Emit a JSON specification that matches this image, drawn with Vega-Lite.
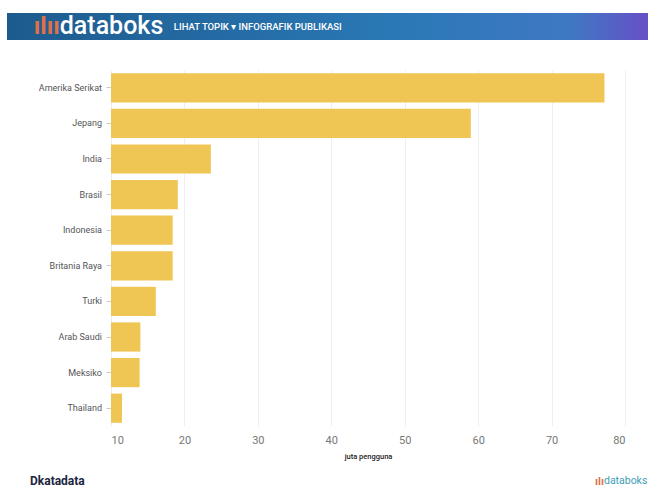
{
  "$schema": "https://vega.github.io/schema/vega-lite/v6.json",
  "padding": {"left": 7, "top": 13, "right": 0, "bottom": 0},
  "autosize": {"type": "pad"},
  "background": "white",
  "spacing": 3,
  "config": {"view": {"stroke": null}, "font": "Roboto"},
  "datasets": {
    "countries": [
      {"negara": "Amerika Serikat", "pengguna": 77.2, "kolom": "label"},
      {"negara": "Jepang", "pengguna": 59.0, "kolom": "label"},
      {"negara": "India", "pengguna": 23.6, "kolom": "label"},
      {"negara": "Brasil", "pengguna": 19.1, "kolom": "label"},
      {"negara": "Indonesia", "pengguna": 18.4, "kolom": "label"},
      {"negara": "Britania Raya", "pengguna": 18.4, "kolom": "label"},
      {"negara": "Turki", "pengguna": 16.1, "kolom": "label"},
      {"negara": "Arab Saudi", "pengguna": 14.0, "kolom": "label"},
      {"negara": "Meksiko", "pengguna": 13.9, "kolom": "label"},
      {"negara": "Thailand", "pengguna": 11.5, "kolom": "label"}
    ],
    "header": [
      {"row": "band", "slot": "logo", "part": "band", "label": ""},
      {"row": "band", "slot": "logo", "part": "icon", "label": "ılıı"},
      {"row": "band", "slot": "logo", "part": "brand", "label": "databoks"},
      {"row": "band", "slot": "nav", "part": "nav", "label": "LIHAT TOPIK ▾   INFOGRAFIK   PUBLIKASI"}
    ],
    "footer": [
      {"slot": "left", "part": "katadata", "label": "Dkatadata"},
      {"slot": "right", "part": "icon", "label": "ılı"},
      {"slot": "right", "part": "databoks", "label": "databoks"}
    ]
  },
  "vconcat": [
    {
      "width": 641,
      "height": 54,
      "data": {"name": "header"},
      "encoding": {
        "y": {"field": "row", "type": "nominal", "axis": null,
              "scale": {"type": "band", "domain": ["band", "gap"], "paddingInner": 0, "paddingOuter": 0}},
        "x": {"field": "slot", "type": "nominal", "axis": null,
              "scale": {"type": "point", "domain": ["logo", "nav", "d1", "d2", "d3", "d4"], "padding": 0.31, "align": 0.746}},
        "text": {"field": "label"}
      },
      "layer": [
        {
          "transform": [{"filter": "datum.part === 'band'"}],
          "mark": {"type": "rect",
                   "color": {"gradient": "linear", "x1": 0, "x2": 1, "y1": 0, "y2": 0,
                             "stops": [{"offset": 0, "color": "#1d5b8e"}, {"offset": 0.6, "color": "#2a78b5"}, {"offset": 0.88, "color": "#3f78c4"}, {"offset": 1, "color": "#6650c6"}]}},
          "encoding": {"x": null, "text": null}
        },
        {
          "transform": [{"filter": "datum.part === 'icon'"}],
          "mark": {"type": "text", "align": "right", "baseline": "middle", "color": "#e0704a", "fontSize": 24, "fontWeight": "bold"}
        },
        {
          "transform": [{"filter": "datum.part === 'brand'"}],
          "mark": {"type": "text", "align": "left", "baseline": "middle", "color": "white", "fontSize": 25, "fontWeight": 500, "dy": -1}
        },
        {
          "transform": [{"filter": "datum.part === 'nav'"}],
          "mark": {"type": "text", "align": "left", "baseline": "middle", "color": "white", "fontSize": 9.5, "fontWeight": 500}
        }
      ]
    },
    {
      "hconcat": [
        {
          "width": 95,
          "height": 356,
          "data": {"name": "countries"},
          "mark": {"type": "text", "align": "right", "baseline": "middle", "fontSize": 9, "color": "#555"},
          "encoding": {
            "y": {"field": "negara", "type": "nominal", "sort": null, "axis": null,
                  "scale": {"paddingInner": 0.18, "paddingOuter": 0.09}},
            "x": {"field": "kolom", "type": "nominal", "axis": null,
                  "scale": {"type": "point", "domain": ["label"], "padding": 0, "align": 1}},
            "text": {"field": "negara"}
          }
        },
        {
          "width": 514,
          "height": 356,
          "data": {"name": "countries"},
          "mark": {"type": "bar", "color": "#efc553"},
          "encoding": {
            "y": {"field": "negara", "type": "nominal", "sort": null, "title": null,
                  "scale": {"paddingInner": 0.18, "paddingOuter": 0.09},
                  "axis": {"labels": false, "tickColor": "#ccc", "tickSize": 5,
                           "domain": false, "grid": false, "minExtent": 5, "maxExtent": 5}},
            "x": {"field": "pengguna", "type": "quantitative", "title": "juta pengguna",
                  "scale": {"domain": [10, 80], "zero": false, "nice": false},
                  "axis": {"values": [10, 20, 30, 40, 50, 60, 70, 80], "labelFontSize": 11, "labelColor": "#777",
                           "ticks": false, "domain": false, "labelPadding": 8, "gridColor": "#eeeeee",
                           "titleFontSize": 7.5, "titleColor": "#222", "titleFontWeight": 500, "titlePadding": 7}},
            "x2": {"datum": 10}
          }
        }
      ],
      "spacing": 3
    },
    {
      "width": 641,
      "height": 26,
      "data": {"name": "footer"},
      "encoding": {
        "x": {"field": "slot", "type": "nominal", "axis": null,
              "scale": {"type": "point", "domain": ["left", "right"], "padding": 0.0584, "align": 0.343}},
        "text": {"field": "label"}
      },
      "layer": [
        {
          "transform": [{"filter": "datum.part === 'katadata'"}],
          "mark": {"type": "text", "align": "left", "baseline": "top", "color": "#1c2540", "fontSize": 12, "fontWeight": "bold"}
        },
        {
          "transform": [{"filter": "datum.part === 'icon'"}],
          "mark": {"type": "text", "align": "right", "baseline": "top", "color": "#e0704a", "fontSize": 11, "fontWeight": "bold"}
        },
        {
          "transform": [{"filter": "datum.part === 'databoks'"}],
          "mark": {"type": "text", "align": "left", "baseline": "top", "color": "#3d9db3", "fontSize": 10.5}
        }
      ]
    }
  ]
}
